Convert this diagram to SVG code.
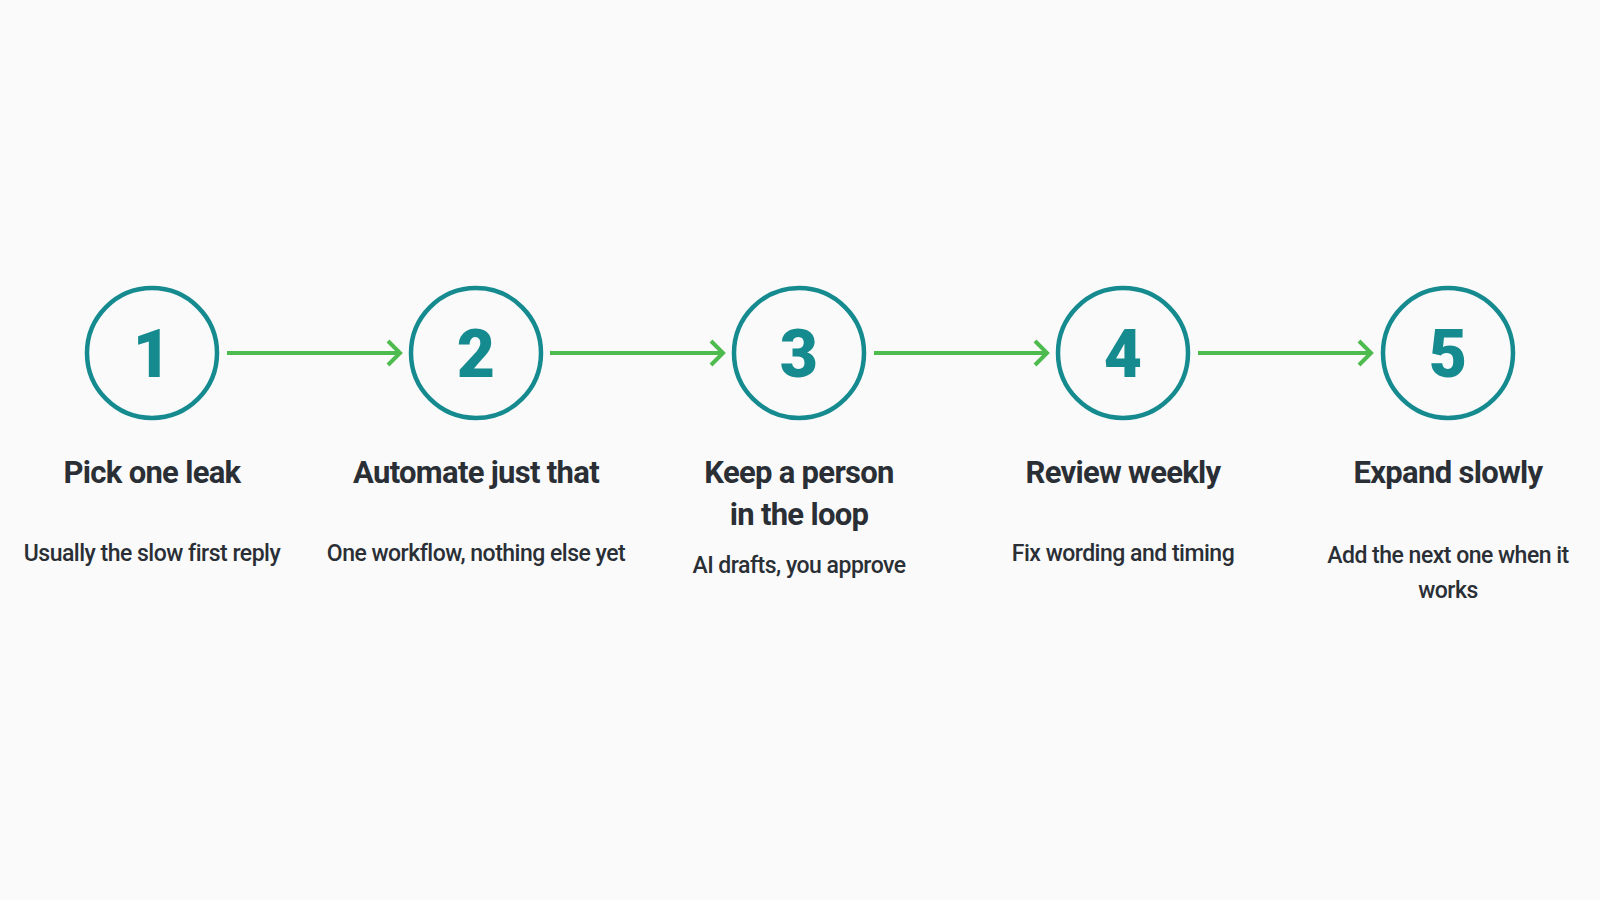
<svg xmlns="http://www.w3.org/2000/svg" width="1600" height="900" viewBox="0 0 1600 900">
<style>
.c{fill:none;stroke:#158b8f;stroke-width:4.5}
.n{font-family:Roboto,"Liberation Sans",sans-serif;font-weight:900;font-size:66px;fill:#158b8f;text-anchor:middle}
.t{font-family:Roboto,"Liberation Sans",sans-serif;font-weight:bold;font-size:31px;fill:#2a2f36;text-anchor:middle;letter-spacing:-0.7px}
.s{font-family:Roboto,"Liberation Sans",sans-serif;font-weight:500;font-size:23px;fill:#2a2f36;text-anchor:middle;letter-spacing:-0.5px}
.a{stroke:#4dbb4d;stroke-width:4;fill:none}
</style>
<rect width="1600" height="900" fill="#fafafa"/>
<g id="connectors">
<path class="a" d="M227 353H400M388 341L400 353L388 365"/>
<path class="a" d="M550 353H723M711 341L723 353L711 365"/>
<path class="a" d="M874 353H1047M1035 341L1047 353L1035 365"/>
<path class="a" d="M1198 353H1371M1359 341L1371 353L1359 365"/>
</g>
<g id="n1"><circle class="c" cx="152" cy="353" r="65"/><text class="n" x="152" y="377">1</text><text class="t" x="152" y="483">Pick one leak</text><text class="s" x="152" y="561">Usually the slow first reply</text></g>
<g id="n2"><circle class="c" cx="476" cy="353" r="65"/><text class="n" x="476" y="377">2</text><text class="t" x="476" y="483">Automate just that</text><text class="s" x="476" y="561">One workflow, nothing else yet</text></g>
<g id="n3"><circle class="c" cx="799" cy="353" r="65"/><text class="n" x="799" y="377">3</text><text class="t" x="799" y="483">Keep a person</text><text class="t" x="799" y="525">in the loop</text><text class="s" x="799" y="573">AI drafts, you approve</text></g>
<g id="n4"><circle class="c" cx="1123" cy="353" r="65"/><text class="n" x="1123" y="377">4</text><text class="t" x="1123" y="483">Review weekly</text><text class="s" x="1123" y="561">Fix wording and timing</text></g>
<g id="n5"><circle class="c" cx="1448" cy="353" r="65"/><text class="n" x="1448" y="377">5</text><text class="t" x="1448" y="483">Expand slowly</text><text class="s" x="1448" y="563">Add the next one when it</text><text class="s" x="1448" y="598">works</text></g>
</svg>
